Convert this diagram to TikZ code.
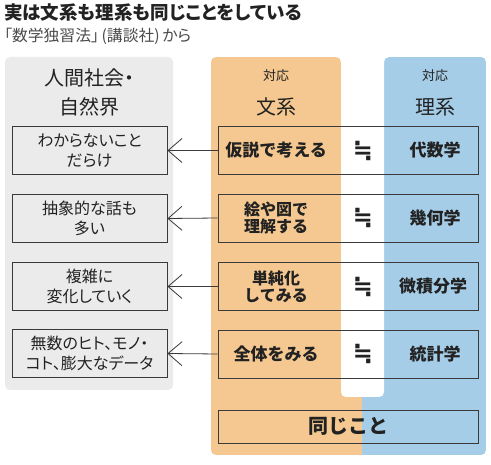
\documentclass[tikz,border=0pt]{standalone}
\usepackage{fontspec}
\setmainfont{Noto Sans CJK JP}
\newfontfamily\pfont{Noto Sans CJK JP}[RawFeature=+palt]
\newfontfamily\symfont{DejaVu Sans}
\usetikzlibrary{arrows.meta}
\definecolor{org}{HTML}{F4C890}
\definecolor{blu}{HTML}{A6CDE8}
\definecolor{gry}{HTML}{EBEBEB}
\definecolor{ink}{HTML}{222222}
\definecolor{sub}{HTML}{4A4A4A}
\definecolor{edge}{HTML}{3A3A3A}
\begin{document}
\begin{tikzpicture}[x=1pt,y=-1pt,
  lbox/.style={draw=edge, line width=0.8pt, minimum width=155pt, minimum height=48pt, inner sep=0pt},
  rbox/.style={draw=edge, line width=0.8pt, minimum width=260pt, minimum height=48pt, inner sep=0pt},
  ltext/.style={text=ink, align=center, font=\pfont\fontsize{16}{20}\selectfont},
  otext/.style={text=ink, align=center, font=\bfseries\fontsize{17}{18}\selectfont},
  otwo/.style={text=ink, align=center, font=\bfseries\fontsize{16}{17}\selectfont},
  eqsign/.style={text=ink, font=\symfont\bfseries\fontsize{24}{24}\selectfont},
  head/.style={text=ink, align=center, font=\pfont\fontsize{20}{29}\selectfont},
  small/.style={text=ink, font=\fontsize{13}{13}\selectfont},
  conn/.style={draw=edge, line width=0.8pt, -{Straight Barb[length=14pt,width=24pt,line width=0.8pt]}}
]
\useasboundingbox (0,0) rectangle (491,465);
\fill[white] (0,0) rectangle (491,465);

% title
\node[anchor=west, inner sep=0pt, text=ink, font=\pfont\bfseries\fontsize{18.5}{20}\selectfont] (title) at (4,13) {実は文系も理系も同じことをしている};
\node[anchor=west, inner sep=0pt, text=sub, font=\pfont\fontsize{15.8}{17}\selectfont] (subtitle) at (4,36) {「数学独習法」\,(講談社)\,から};

% panels
\fill[gry, rounded corners=5pt] (5,57) rectangle (173,390);
\begin{scope}
  \clip[rounded corners=5pt] (211,57) rectangle (486,455);
  \fill[org] (211,57) rectangle (362,455);
  \fill[blu] (362,57) rectangle (486,455);
\end{scope}
\fill[white] (336,50) -- (336,57) .. controls (339,57) and (341,59) .. (341,62)
  -- (341,392) .. controls (341,395) and (343,397) .. (346,397)
  -- (379,397) .. controls (382,397) and (384,395) .. (384,392)
  -- (384,62) .. controls (384,59) and (386,57) .. (389,57) -- (389,50) -- cycle;

% headers
\node[head] (hleft) at (90,92) {人間社会・\\自然界};
\node[small] (hbun0) at (276,76) {対応};
\node[head] (hbun) at (276,107) {文系};
\node[small] (hri0) at (435,76) {対応};
\node[head] (hri) at (435,107) {理系};

% left boxes
\node[lbox] (l1) at (89.5,150.5) {};
\node[lbox] (l2) at (89.5,218.5) {};
\node[lbox] (l3) at (89.5,286.5) {};
\node[lbox] (l4) at (89.5,353.5) {};
\node[ltext] (lt1) at (l1) {わからないこと\\だらけ};
\node[ltext] (lt2) at (l2) {抽象的な話も\\多い};
\node[ltext] (lt3) at (l3) {複雑に\\変化していく};
\node[ltext] (lt4) at (l4) {無数のヒト、モノ・\\コト、膨大なデータ};

% right boxes
\node[rbox] (r1) at (348,150.5) {};
\node[rbox] (r2) at (348,218) {};
\node[rbox] (r3) at (348,286.5) {};
\node[rbox] (r4) at (348,354) {};
\node[rbox, minimum height=33pt] (r5) at (348,426.5) {};

\node[otext] (a1) at (276,150.5) {仮説で考える};
\node[otwo] (a2) at (276,218) {絵や図で\\理解する};
\node[otwo] (a3) at (276,286.5) {単純化\\してみる};
\node[otext] (a4) at (276,354) {全体をみる};

\node[eqsign] (e1) at (363,150.5) {≒};
\node[eqsign] (e2) at (363,218) {≒};
\node[eqsign] (e3) at (363,286.5) {≒};
\node[eqsign] (e4) at (363,354) {≒};

\node[otext] (b1) at (435,150.5) {代数学};
\node[otext] (b2) at (435,218) {幾何学};
\node[otext] (b3) at (433,286.5) {微積分学};
\node[otext] (b4) at (435,354) {統計学};

\node[text=ink, font=\bfseries\fontsize{20}{20}\selectfont] (same) at (r5) {同じこと};

% connectors
\draw[conn] (r1.west) -- (l1.east);
\draw[conn] (r2.west) -- (l2.east);
\draw[conn] (r3.west) -- (l3.east);
\draw[conn] (r4.west) -- (l4.east);
\end{tikzpicture}
\end{document}
